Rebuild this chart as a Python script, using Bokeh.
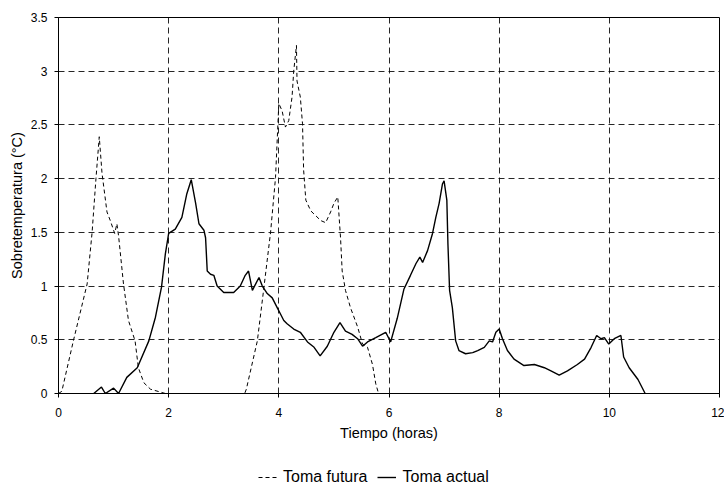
from bokeh.plotting import figure
from bokeh.layouts import column
from bokeh.models import Range1d, FixedTicker, Legend, LegendItem
from bokeh.embed import file_html
from bokeh.resources import INLINE

# ---- data ----
fut_x = [0.0, 0.06, 0.27, 0.52, 0.61, 0.68, 0.74, 0.79, 0.88, 0.94, 1.02, 1.06, 1.09, 1.18,
         1.27, 1.39, 1.45, 1.55, 1.67, 1.94, 3.38, 3.41, 3.61, 3.73, 3.85, 3.94, 4.0, 4.06,
         4.12, 4.18, 4.24, 4.27, 4.32, 4.33, 4.39, 4.43, 4.45, 4.49, 4.58, 4.64, 4.76, 4.85,
         4.94, 5.0, 5.07, 5.12, 5.15, 5.21, 5.30, 5.43, 5.52, 5.61, 5.70, 5.76, 5.81]
fut_y = [0.0, 0.02, 0.49, 1.02, 1.5, 2.0, 2.39, 2.05, 1.69, 1.61, 1.49, 1.58, 1.47, 1.02,
         0.68, 0.49, 0.24, 0.10, 0.04, 0.0, 0.0, 0.04, 0.49, 0.99, 1.5, 2.01, 2.7, 2.63,
         2.48, 2.54, 2.76, 3.0, 3.24, 2.91, 2.76, 2.51, 2.08, 1.80, 1.70, 1.67, 1.61, 1.59,
         1.69, 1.77, 1.83, 1.45, 1.14, 0.96, 0.80, 0.62, 0.46, 0.43, 0.27, 0.09, 0.0]

act_x = [0.64, 0.78, 0.85, 1.0, 1.09, 1.24, 1.43, 1.64, 1.76, 1.87, 1.94, 2.0, 2.12, 2.24,
         2.33, 2.41, 2.49, 2.55, 2.64, 2.67, 2.70, 2.76, 2.82, 2.88, 3.0, 3.18, 3.30, 3.39,
         3.45, 3.52, 3.58, 3.64, 3.70, 3.79, 3.88, 3.97, 4.03, 4.09, 4.15, 4.27, 4.39, 4.52,
         4.64, 4.75, 4.88, 5.0, 5.11, 5.21, 5.33, 5.43, 5.52, 5.61, 5.76, 5.94, 6.03, 6.15,
         6.27, 6.39, 6.49, 6.56, 6.61, 6.70, 6.79, 6.85, 6.91, 6.97, 7.0, 7.05, 7.07, 7.10,
         7.15, 7.21, 7.27, 7.39, 7.52, 7.61, 7.73, 7.82, 7.88, 7.94, 8.0, 8.06, 8.15, 8.27,
         8.45, 8.64, 8.82, 8.94, 9.09, 9.24, 9.42, 9.55, 9.67, 9.77, 9.85, 9.91, 9.99, 10.09,
         10.21, 10.26, 10.36, 10.52, 10.65]
act_y = [0.0, 0.06, 0.0, 0.05, 0.0, 0.15, 0.24, 0.49, 0.71, 0.99, 1.30, 1.49, 1.53, 1.64,
         1.86, 1.99, 1.77, 1.58, 1.52, 1.45, 1.14, 1.11, 1.10, 1.0, 0.94, 0.94, 1.0, 1.10,
         1.14, 0.96, 1.02, 1.08, 1.0, 0.93, 0.89, 0.80, 0.74, 0.68, 0.65, 0.60, 0.57, 0.48,
         0.43, 0.35, 0.44, 0.57, 0.66, 0.58, 0.55, 0.51, 0.44, 0.48, 0.52, 0.57, 0.48, 0.70,
         0.97, 1.10, 1.21, 1.27, 1.22, 1.33, 1.49, 1.64, 1.77, 1.95, 1.98, 1.80, 1.39, 0.96,
         0.80, 0.49, 0.40, 0.37, 0.38, 0.40, 0.43, 0.49, 0.48, 0.57, 0.60, 0.51, 0.40, 0.32,
         0.26, 0.27, 0.24, 0.21, 0.17, 0.21, 0.27, 0.32, 0.43, 0.54, 0.51, 0.52, 0.46, 0.51,
         0.54, 0.34, 0.24, 0.13, 0.0]

x_ticks = [0, 2, 4, 6, 8, 10, 12]
x_tick_labels = ["0", "2", "4", "6", "8", "10", "12"]
y_ticks = [0, 0.5, 1, 1.5, 2, 2.5, 3, 3.5]
y_tick_labels = ["0", "0.5", "1", "1.5", "2", "2.5", "3", "3.5"]

series_names = ["Toma futura", "Toma actual"]
x_title = "Tiempo (horas)"
y_title = "Sobretemperatura (°C)"

FONT = "Liberation Sans"
FUT_STYLE = dict(line_color="black", line_width=1, line_dash="4 3")
ACT_STYLE = dict(line_color="black", line_width=1.4)

p = figure(width=724, height=443, output_backend="svg", toolbar_location=None,
           x_range=Range1d(0, 12), y_range=Range1d(0, 3.5),
           min_border_left=58, min_border_right=5, min_border_top=17, min_border_bottom=50)
p.background_fill_color = "white"
p.border_fill_color = "white"
p.outline_line_color = "black"
p.outline_line_width = 1
p.outline_line_alpha = 1

# axes
p.xaxis.ticker = FixedTicker(ticks=x_ticks)
p.yaxis.ticker = FixedTicker(ticks=y_ticks)
p.xaxis.major_label_overrides = {t: l for t, l in zip(x_ticks, x_tick_labels)}
p.yaxis.major_label_overrides = {t: l for t, l in zip(y_ticks, y_tick_labels)}
for ax in (p.xaxis, p.yaxis):
    ax.axis_line_color = "black"
    ax.axis_line_width = 1
    ax.major_tick_line_color = "black"
    ax.major_tick_out = 4
    ax.major_tick_in = 0
    ax.minor_tick_line_color = None
    ax.major_label_text_font = FONT
    ax.major_label_text_font_size = "12px"
    ax.major_label_text_color = "black"
    ax.axis_label_text_font = FONT
    ax.axis_label_text_font_size = "14.5px"
    ax.axis_label_text_font_style = "normal"
    ax.axis_label_text_color = "black"
p.xaxis.major_label_standoff = 10
p.yaxis.major_label_standoff = 7
p.yaxis.axis_label = y_title
p.yaxis.axis_label_standoff = 3
p.xaxis.axis_label = x_title
p.xaxis.axis_label_standoff = 5

# grid
p.xgrid.ticker = FixedTicker(ticks=x_ticks[1:-1])
p.ygrid.ticker = FixedTicker(ticks=y_ticks[1:-1])
for g in (p.xgrid, p.ygrid):
    g.grid_line_color = "black"
    g.grid_line_dash = "6 4"
    g.grid_line_width = 1
    g.grid_line_alpha = 0.85

# series
p.line(fut_x, fut_y, **FUT_STYLE)
p.line(act_x, act_y, **ACT_STYLE)

# legend strip below the chart (series drawn out of view so only the legend shows)
lg = figure(width=724, height=52, output_backend="svg", toolbar_location=None,
            x_range=Range1d(0, 12), y_range=Range1d(10, 11),
            x_axis_location=None, y_axis_location=None, min_border=0)
lg.outline_line_color = None
lg.xgrid.visible = False
lg.ygrid.visible = False
lg.background_fill_color = "white"
lg.border_fill_color = "white"
l1 = lg.line(fut_x, fut_y, **FUT_STYLE)
l2 = lg.line(act_x, act_y, **ACT_STYLE)
legend = Legend(items=[LegendItem(label=series_names[0], renderers=[l1]),
                       LegendItem(label=series_names[1], renderers=[l2])],
                orientation="horizontal", location=(200, 8),
                border_line_color=None, background_fill_alpha=0,
                padding=0, spacing=10, glyph_width=19, glyph_height=20, label_height=20,
                label_standoff=6, label_text_font=FONT, label_text_font_size="16px",
                label_text_color="black", margin=0)
lg.add_layout(legend)

layout = column(p, lg, spacing=0)
open("out.html", "w").write(file_html(layout, INLINE))
